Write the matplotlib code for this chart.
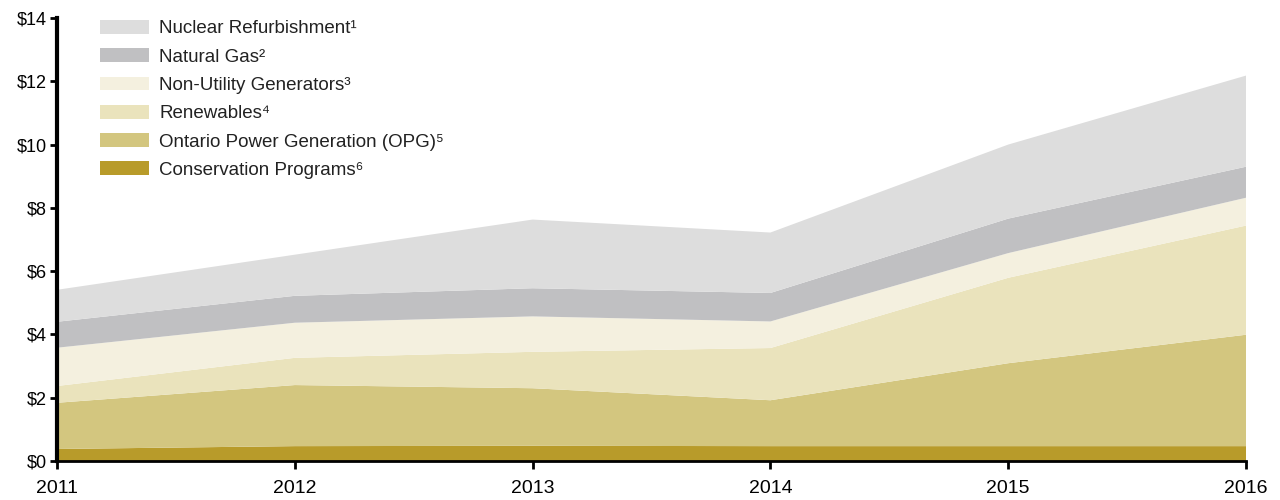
import matplotlib.pyplot as plt
from matplotlib.patches import Patch

plt.rcParams['font.family'] = ['Liberation Sans', 'DejaVu Sans']

years = [2011, 2012, 2013, 2014, 2015, 2016]

# values in $ billions (layer thickness)
conservation = [0.38, 0.47, 0.48, 0.47, 0.47, 0.47]
opg = [1.46, 1.93, 1.82, 1.45, 2.62, 3.52]
renewables = [0.53, 0.86, 1.15, 1.65, 2.70, 3.45]
nug = [1.21, 1.11, 1.12, 0.84, 0.78, 0.88]
natural_gas = [0.82, 0.85, 0.89, 0.90, 1.09, 0.98]
nuclear = [1.01, 1.30, 2.17, 1.91, 2.34, 2.88]

labels = ['Conservation Programs\u2076', 'Ontario Power Generation (OPG)\u2075',
          'Renewables\u2074', 'Non-Utility Generators\u00b3',
          'Natural Gas\u00b2', 'Nuclear Refurbishment\u00b9']
colors = ['#b89b2a', '#d3c67f', '#eae3bc', '#f4f0df', '#c0c0c2', '#dddddd']

ytick_vals = [0, 2, 4, 6, 8, 10, 12, 14]
ytick_labels = ['$0', '$2', '$4', '$6', '$8', '$10', '$12', '$14']

fig = plt.figure(figsize=(12.8, 5), dpi=100)
ax = fig.add_axes([57/1280, 39/500, (1246-57)/1280, (461-18)/500])

ax.stackplot(years, conservation, opg, renewables, nug, natural_gas, nuclear,
             colors=colors, linewidth=0)

ax.set_xlim(2011, 2016)
ax.set_ylim(0, 14)
ax.set_xticks(years)
ax.set_xticklabels([str(y) for y in years], fontsize=14)
ax.set_yticks(ytick_vals)
ax.set_yticklabels(ytick_labels, fontsize=13)
ax.tick_params(axis='y', length=5, width=2, pad=2)
ax.tick_params(axis='x', length=6, width=2, pad=8)

for s in ['top', 'right']:
    ax.spines[s].set_visible(False)
ax.spines['left'].set_linewidth(3)
ax.spines['bottom'].set_linewidth(2)
ax.spines['left'].set_zorder(5)
ax.spines['bottom'].set_zorder(5)

handles = [Patch(facecolor=c, edgecolor='none') for c in colors]
leg = ax.legend(handles[::-1], labels[::-1], loc='upper left',
                bbox_to_anchor=(100/1280, 1 - 20/500), bbox_transform=fig.transFigure,
                frameon=False, fontsize=13.5, borderpad=0, borderaxespad=0,
                handlelength=2.6, handleheight=0.75, handletextpad=0.55,
                labelspacing=0.58)
for t in leg.get_texts():
    t.set_color('#222222')

fig.savefig('out.png', dpi=100)
